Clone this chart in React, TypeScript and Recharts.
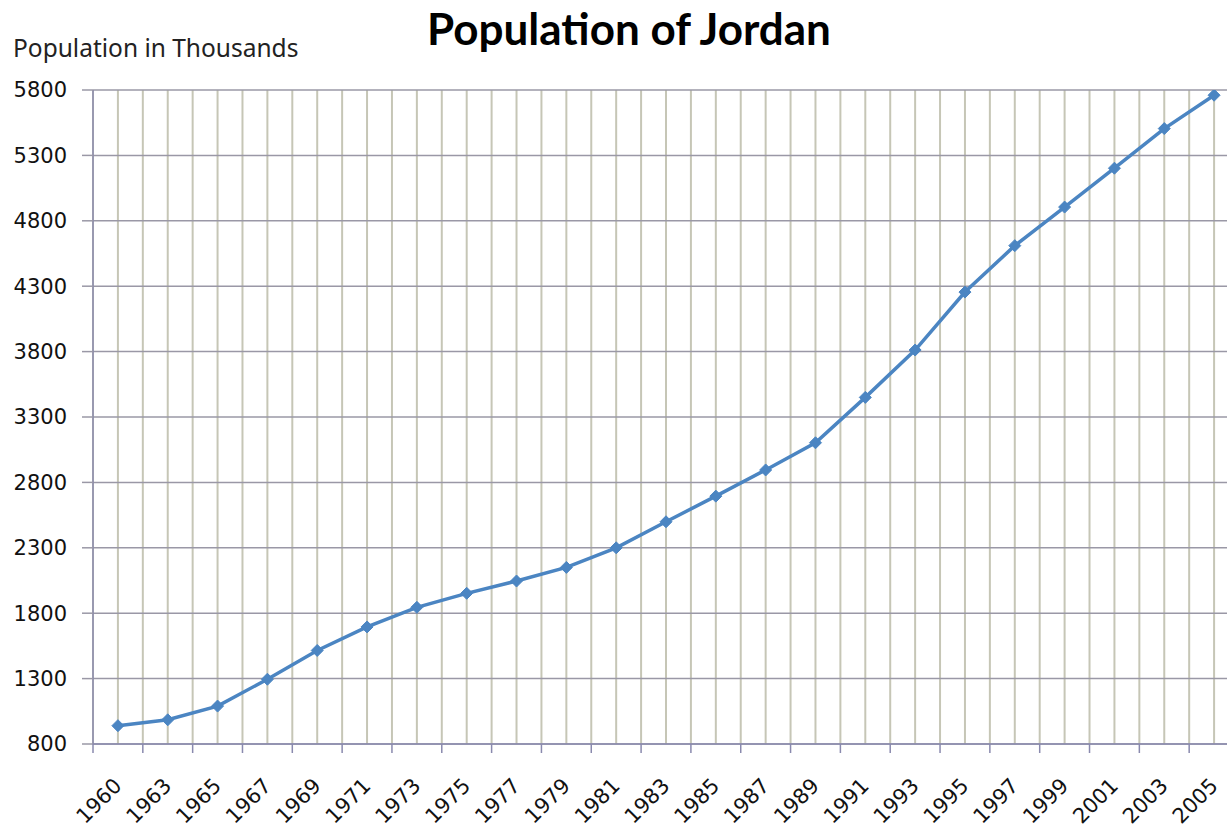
import React from "react";
import { LineChart, Line, XAxis, YAxis, CartesianGrid } from "recharts";

const years = [
  "1960", "1963", "1965", "1967", "1969", "1971", "1973", "1975", "1977", "1979", "1981", "1983",
  "1985", "1987", "1989", "1991", "1993", "1995", "1997", "1999", "2001", "2003", "2005",
];
const population = [
  940, 985, 1090, 1295, 1515, 1695, 1845, 1952, 2046, 2150, 2300, 2499,
  2695, 2895, 3103, 3450, 3812, 4255, 4610, 4905, 5202, 5505, 5760,
];
const yTicks = [800, 1300, 1800, 2300, 2800, 3300, 3800, 4300, 4800, 5300, 5800];
const chartTitle = "Population of Jordan";
const yAxisTitle = "Population in Thousands";

const data = years.map((year, i) => ({ year, pop: population[i] }));

const CHART_W = 1260;
const CHART_H = 827;
const Y_AXIS_W = 93;
const X_AXIS_H = 83;
const MARGIN = { top: 90, right: 21, bottom: 0, left: 0 };
const PLOT_W = CHART_W - MARGIN.left - MARGIN.right - Y_AXIS_W;
const BAND = PLOT_W / years.length;
const LINE_COLOR = "#4b85c2";
const TICK_FONT = "'DejaVu Sans', sans-serif";

const verticalPoints = Array.from({ length: years.length * 2 + 1 }, (_, i) => Y_AXIS_W + (i * BAND) / 2);

const Diamond = (props: any) => {
  const { cx, cy, index } = props;
  if (cx == null || cy == null) return <g key={index} />;
  const r = 6;
  return (
    <path
      key={index}
      d={`M${cx},${cy - r}L${cx + r},${cy}L${cx},${cy + r}L${cx - r},${cy}Z`}
      fill={LINE_COLOR}
      stroke={LINE_COLOR}
      strokeWidth={1}
    />
  );
};

const XTick = (props: any) => {
  const { x, y, payload } = props;
  const tx = x + 5;
  const ty = y + 43;
  return (
    <g>
      <line x1={x - BAND / 2} y1={y} x2={x - BAND / 2} y2={y + 9} stroke="#8a8aae" strokeWidth={1.5} />
      <text
        x={tx}
        y={ty}
        transform={`rotate(-45 ${tx} ${ty})`}
        textAnchor="end"
        fontFamily={TICK_FONT}
        fontSize={21}
        fill="#111"
      >
        {payload.value}
      </text>
    </g>
  );
};

export default function App() {
  return (
    <div
      style={{
        position: "absolute",
        left: 0,
        top: 0,
        width: 1227,
        height: 827,
        overflow: "hidden",
        background: "#fff",
      }}
    >
      <LineChart width={CHART_W} height={CHART_H} data={data} margin={MARGIN}>
        <CartesianGrid
          horizontal={false}
          vertical={true}
          verticalPoints={verticalPoints}
          stroke="#c6c6b6"
          strokeWidth={2}
        />
        <CartesianGrid horizontal={true} vertical={false} stroke="#9a98a6" strokeWidth={1.5} />
        <XAxis
          dataKey="year"
          type="category"
          height={X_AXIS_H}
          padding={{ left: BAND / 2, right: BAND / 2 }}
          interval={0}
          tickSize={0}
          tickMargin={0}
          tickLine={false}
          axisLine={{ stroke: "#8a8aae", strokeWidth: 1.5 }}
          tick={<XTick />}
        />
        <YAxis
          type="number"
          domain={[800, 5800]}
          ticks={yTicks}
          interval={0}
          width={Y_AXIS_W}
          tickSize={11}
          tickMargin={15}
          tickLine={{ stroke: "#9a98a6", strokeWidth: 1.5 }}
          axisLine={{ stroke: "#8a8aae", strokeWidth: 1.5 }}
          tick={{ fontFamily: TICK_FONT, fontSize: 21, fill: "#111" }}
          allowDataOverflow={true}
        />
        <Line
          type="linear"
          dataKey="pop"
          stroke={LINE_COLOR}
          strokeWidth={3.5}
          dot={<Diamond />}
          activeDot={false}
          isAnimationActive={false}
        />
      </LineChart>
      <svg
        width={1227}
        height={827}
        style={{ position: "absolute", left: 0, top: 0, pointerEvents: "none" }}
      >
        <text
          x={629}
          y={45}
          textAnchor="middle"
          fontFamily="Lato, sans-serif"
          fontWeight="bold"
          fontSize={44}
          fill="#000"
        >
          {chartTitle}
        </text>
        <text x={13} y={57} fontFamily="'Noto Sans', sans-serif" fontSize={24.5} fill="#222">
          {yAxisTitle}
        </text>
      </svg>
    </div>
  );
}
